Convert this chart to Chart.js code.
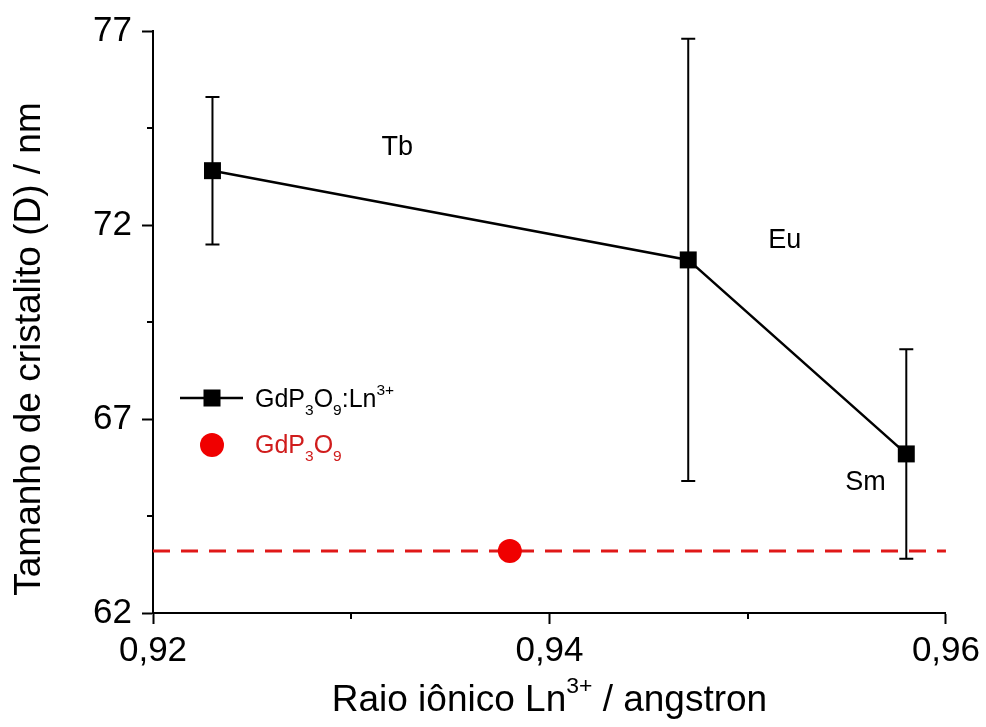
<!DOCTYPE html>
<html>
<head>
<meta charset="utf-8">
<script src="https://cdn.jsdelivr.net/npm/chart.js@4.4.1/dist/chart.umd.min.js"></script>
<style>
  html, body { margin: 0; padding: 0; background: #fff; }
  #wrap { width: 986px; height: 727px; }
</style>
</head>
<body>
<div id="wrap"><canvas id="chart"></canvas></div>
<script>
const fontType = '"Liberation Sans", Arial, sans-serif';

/* doped samples: ionic radius of Ln3+ (angstrom), crystallite size (nm), error */
const dopantIons = ['Tb', 'Eu', 'Sm'];
const ionicRadius = [0.923, 0.947, 0.958];
const crystalliteSize = [73.4, 71.1, 66.1];
const sizeError = [1.9, 5.7, 2.7];

/* undoped host */
const hostRadius = [0.938];
const hostSize = [63.6];

const xTicks = [0.92, 0.94, 0.96];
const xMinorTicks = [0.93, 0.95];
const yTicks = [62, 67, 72, 77];
const yMinorTicks = [64.5, 69.5, 74.5];

const xRange = [0.92, 0.96];
const yRange = [62, 77];

const lineColor = '#000';
const hostColor = '#f00000';
const hostLineColor = '#e01818';
const hostTextColor = '#d01c1c';

// text with sub/superscript pieces: [text, 'n' | 'sub' | 'sup']
function drawRich(ctx, x, y, parts, size, color) {
  ctx.save();
  ctx.fillStyle = color;
  ctx.textBaseline = 'alphabetic';
  ctx.textAlign = 'left';
  let cx = x;
  parts.forEach(([t, kind]) => {
    let fs = kind == 'n' ? size : size * 0.62;
    let dy = kind == 'sub' ? size * 0.3 : (kind == 'sup' ? -size * 0.48 : 0);
    ctx.font = fs + 'px ' + fontType;
    ctx.fillText(t, cx, y + dy);
    cx += ctx.measureText(t).width;
  });
  ctx.restore();
  return cx - x;
}

function richWidth(ctx, parts, size) {
  let w = 0;
  ctx.save();
  parts.forEach(([t, kind]) => {
    let fs = kind == 'n' ? size : size * 0.62;
    ctx.font = fs + 'px ' + fontType;
    w += ctx.measureText(t).width;
  });
  ctx.restore();
  return w;
}

const decorPlugin = {
  id: 'decor',
  beforeDatasetsDraw(chart) {
    const ctx = chart.ctx;
    const xs = chart.scales.x, ys = chart.scales.y;
    ctx.save();
    ctx.strokeStyle = lineColor;
    ctx.lineWidth = 2;
    ionicRadius.forEach((r, i) => {
      let px = xs.getPixelForValue(r);
      let top = ys.getPixelForValue(crystalliteSize[i] + sizeError[i]);
      let bot = ys.getPixelForValue(crystalliteSize[i] - sizeError[i]);
      ctx.beginPath();
      ctx.moveTo(px, top); ctx.lineTo(px, bot);
      ctx.moveTo(px - 7, top); ctx.lineTo(px + 7, top);
      ctx.moveTo(px - 7, bot); ctx.lineTo(px + 7, bot);
      ctx.stroke();
    });
    ctx.restore();
  },
  afterDraw(chart) {
    const ctx = chart.ctx;
    const xs = chart.scales.x, ys = chart.scales.y;
    const area = chart.chartArea;

    // minor ticks
    ctx.save();
    ctx.strokeStyle = '#000';
    ctx.lineWidth = 2;
    ctx.beginPath();
    yMinorTicks.forEach((v) => {
      let py = Math.round(ys.getPixelForValue(v));
      ctx.moveTo(area.left, py); ctx.lineTo(area.left - 6, py);
    });
    xMinorTicks.forEach((v) => {
      let px = Math.round(xs.getPixelForValue(v));
      ctx.moveTo(px, area.bottom); ctx.lineTo(px, area.bottom + 6);
    });
    ctx.stroke();
    ctx.restore();

    // ion labels next to the points
    const offsets = [[169, -16], [80, -12], [-61, 36]];
    ctx.save();
    ctx.fillStyle = '#000';
    ctx.font = '27px ' + fontType;
    ctx.textBaseline = 'alphabetic';
    dopantIons.forEach((name, i) => {
      let px = xs.getPixelForValue(ionicRadius[i]);
      let py = ys.getPixelForValue(crystalliteSize[i]);
      ctx.fillText(name, px + offsets[i][0], py + offsets[i][1]);
    });
    ctx.restore();

    // legend
    const lx = 212, ly1 = 398, ly2 = 445;
    ctx.save();
    ctx.strokeStyle = lineColor;
    ctx.lineWidth = 2.5;
    ctx.beginPath();
    ctx.moveTo(180, ly1); ctx.lineTo(243, ly1);
    ctx.stroke();
    ctx.fillStyle = lineColor;
    ctx.fillRect(lx - 8.5, ly1 - 8.5, 17, 17);
    ctx.fillStyle = hostColor;
    ctx.beginPath();
    ctx.arc(lx, ly2, 12, 0, Math.PI * 2);
    ctx.fill();
    ctx.restore();
    drawRich(ctx, 255, ly1 + 9, [['GdP', 'n'], ['3', 'sub'], ['O', 'n'], ['9', 'sub'], [':Ln', 'n'], ['3+', 'sup']], 25, '#000');
    drawRich(ctx, 255, ly2 + 8, [['GdP', 'n'], ['3', 'sub'], ['O', 'n'], ['9', 'sub']], 25, hostTextColor);

    // axis titles
    const xTitle = [['Raio iônico Ln', 'n'], ['3+', 'sup'], [' / angstron', 'n']];
    let w = richWidth(ctx, xTitle, 37);
    drawRich(ctx, (area.left + area.right) / 2 - w / 2, 711, xTitle, 37, '#000');

    ctx.save();
    ctx.translate(40, 349);
    ctx.rotate(-Math.PI / 2);
    ctx.font = '37px ' + fontType;
    ctx.fillStyle = '#000';
    ctx.textAlign = 'center';
    ctx.fillText('Tamanho de cristalito (D) / nm', 0, 0);
    ctx.restore();
  }
};

window.addEventListener('DOMContentLoaded', () => {
  const e = document.querySelector('#chart');

  let cfgObj = {
    type: 'scatter',
    data: {
      datasets: [
        {
          label: 'GdP3O9:Ln3+',
          data: ionicRadius.map((r, i) => ({ x: r, y: crystalliteSize[i] })),
          showLine: true,
          borderColor: lineColor,
          borderWidth: 2.5,
          backgroundColor: lineColor,
          pointStyle: 'rect',
          pointRadius: 12,
          pointBorderWidth: 0,
          order: 1
        },
        {
          label: 'GdP3O9',
          data: hostRadius.map((r, i) => ({ x: r, y: hostSize[i] })),
          backgroundColor: hostColor,
          borderColor: hostColor,
          pointStyle: 'circle',
          pointRadius: 12,
          pointBorderWidth: 0,
          order: 1
        },
        {
          label: 'GdP3O9 level',
          data: xRange.map((r) => ({ x: r, y: hostSize[0] })),
          showLine: true,
          borderColor: hostLineColor,
          borderWidth: 3,
          borderDash: [17, 11],
          pointRadius: 0,
          order: 2
        }
      ]
    },
    options: {
      responsive: false,
      animation: false,
      layout: {
        padding: { top: 30, right: 40, left: 0, bottom: 0 }
      },
      plugins: {
        legend: { display: false },
        tooltip: { enabled: false },
        title: { display: false }
      },
      scales: {
        x: {
          type: 'linear',
          min: xRange[0],
          max: xRange[1],
          afterBuildTicks: (s) => { s.ticks = xTicks.map((v) => ({ value: v })); },
          afterFit: (s) => { s.height = 114; },
          grid: {
            display: true,
            drawOnChartArea: false,
            drawTicks: true,
            tickLength: 11,
            tickWidth: 2,
            tickColor: '#000'
          },
          border: { display: true, color: '#000', width: 2 },
          ticks: {
            color: '#000',
            padding: 6,
            font: { family: fontType, size: 35 },
            callback: (v) => v.toFixed(2).replace('.', ',')
          }
        },
        y: {
          type: 'linear',
          min: yRange[0],
          max: yRange[1],
          afterBuildTicks: (s) => { s.ticks = yTicks.map((v) => ({ value: v })); },
          afterFit: (s) => { s.width = 153; },
          grid: {
            display: true,
            drawOnChartArea: false,
            drawTicks: true,
            tickLength: 11,
            tickWidth: 2,
            tickColor: '#000'
          },
          border: { display: true, color: '#000', width: 2 },
          ticks: {
            color: '#000',
            padding: 10,
            font: { family: fontType, size: 35 },
            callback: (v) => String(v)
          }
        }
      }
    },
    plugins: [decorPlugin]
  };

  e.width = 986;
  e.height = 727;
  new Chart(e, cfgObj);
});
</script>
</body>
</html>
